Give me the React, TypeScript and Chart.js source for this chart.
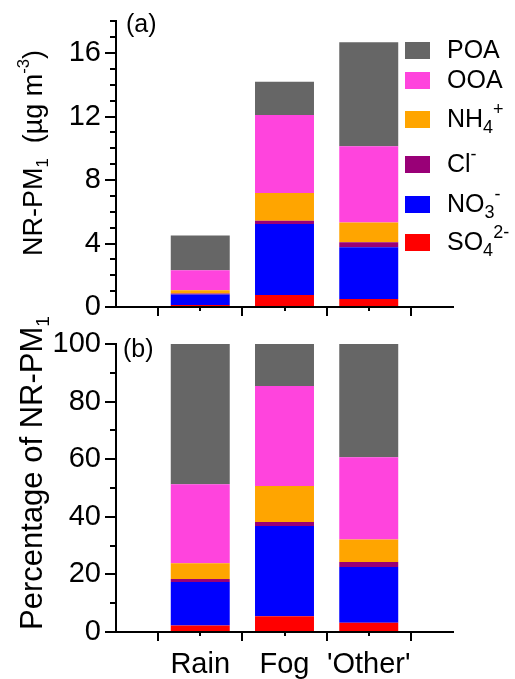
import React, { useEffect, useRef } from 'react';
import { Chart, registerables } from 'chart.js';

Chart.register(...registerables);
Chart.defaults.font.family = "'Liberation Sans', Arial, sans-serif";
Chart.defaults.color = '#000';

// ---------- data ----------
const categories = ['Rain', 'Fog', "'Other'"];
const speciesNames = ['SO4 2-', 'NO3 -', 'Cl -', 'NH4 +', 'OOA', 'POA'];
const speciesColors = ['#FF0000', '#0000FF', '#990077', '#FFA500', '#FF44DD', '#666666'];

// mass concentration (µg m-3), stacked from bottom
const so4Mass = [0.12, 0.75, 0.5];
const no3Mass = [0.67, 4.48, 3.27];
const clMass = [0.06, 0.21, 0.31];
const nh4Mass = [0.21, 1.75, 1.25];
const ooaMass = [1.25, 4.91, 4.8];
const poaMass = [2.19, 2.09, 6.56];

// percentage of NR-PM1
const so4Pct = [2.3, 5.5, 3.2];
const no3Pct = [15.1, 31.3, 19.4];
const clPct = [1.0, 1.4, 1.7];
const nh4Pct = [5.5, 12.5, 7.8];
const ooaPct = [27.4, 34.7, 28.6];
const poaPct = [48.7, 14.6, 39.3];

const massTicks = [0, 4, 8, 12, 16];
const massMinor = [1, 2, 3, 5, 6, 7, 9, 10, 11, 13, 14, 15, 17, 18];
const pctTicks = [0, 20, 40, 60, 80, 100];
const pctMinor = [10, 30, 50, 70, 90];
const catPositions = [1, 2, 3];
const catDividers = [0.5, 1.5, 2.5, 3.5];

// rich text: [text, kind] kind 0 normal, 1 subscript, 2 superscript
type Part = [string, number];
const legendParts: Part[][] = [
  [['POA', 0]],
  [['OOA', 0]],
  [['NH', 0], ['4', 1], ['+', 2]],
  [['Cl', 0], ['-', 2]],
  [['NO', 0], ['3', 1], ['-', 2]],
  [['SO', 0], ['4', 1], ['2-', 2]],
];
const legendColors = ['#666666', '#FF44DD', '#FFA500', '#990077', '#0000FF', '#FF0000'];
const titleTop: Part[] = [['NR-PM', 0], ['1', 1], ['  (\u00B5g m', 0], ['-3', 2], [')', 0]];
const titleBottom: Part[] = [['Percentage of NR-PM', 0], ['1', 1]];

// ---------- layout ----------
const W = 515;
const H = 679;
const FONT = "'Liberation Sans', Arial, sans-serif";
const legendRows = [58, 88, 127, 172, 212, 250]; // text baselines

function drawRich(ctx: CanvasRenderingContext2D, parts: Part[], x: number, y: number, size: number, align: string, subScale = 0.7) {
  const small = size * subScale;
  const widths = parts.map(([t, k]) => {
    ctx.font = `${k ? small : size}px ${FONT}`;
    return ctx.measureText(t).width;
  });
  const total = widths.reduce((a, b) => a + b, 0);
  let cx = align === 'center' ? x - total / 2 : x;
  ctx.textAlign = 'left';
  ctx.textBaseline = 'alphabetic';
  parts.forEach(([t, k], i) => {
    ctx.font = `${k ? small : size}px ${FONT}`;
    const dy = k === 1 ? size * 0.22 : k === 2 ? -size * 0.5 : 0;
    ctx.fillText(t, cx, y + dy);
    cx += widths[i];
  });
}

const overlayPlugin = {
  id: 'overlay',
  afterDraw(chart: any, _args: any, opts: any) {
    const ctx: CanvasRenderingContext2D = chart.ctx;
    const xs = chart.scales.x;
    const ys = chart.scales.y;
    const area = chart.chartArea;
    ctx.save();
    ctx.strokeStyle = '#000';
    ctx.fillStyle = '#000';
    ctx.lineWidth = 2;
    ctx.beginPath();
    for (const v of catDividers) {
      const px = Math.round(xs.getPixelForValue(v));
      ctx.moveTo(px, area.bottom);
      ctx.lineTo(px, area.bottom + 9);
    }
    for (const v of opts.yMinor) {
      const py = Math.round(ys.getPixelForValue(v));
      ctx.moveTo(area.left - 6, py);
      ctx.lineTo(area.left, py);
    }
    ctx.stroke();

    // panel label
    ctx.font = `25px ${FONT}`;
    ctx.textAlign = 'left';
    ctx.textBaseline = 'alphabetic';
    ctx.fillText(opts.panel, opts.panelX, opts.panelY);

    // axis title
    ctx.save();
    ctx.translate(opts.titleX, opts.titleY);
    ctx.rotate(-Math.PI / 2);
    drawRich(ctx, opts.title, 0, 0, opts.titleSize, 'center', 0.62);
    ctx.restore();

    if (opts.legend) {
      legendParts.forEach((parts, i) => {
        const base = legendRows[i];
        ctx.fillStyle = legendColors[i];
        ctx.fillRect(405, base - 16, 25, 17);
        ctx.fillStyle = '#000';
        drawRich(ctx, parts, 447, base, 25, 'left', 0.72);
      });
    }
    ctx.restore();
  },
};

function makeConfig(series: number[][], yMax: number, yTicks: number[], showX: boolean, pad: any, xHeight: number, overlay: any) {
  return {
    type: 'bar' as const,
    data: {
      datasets: series.map((vals, k) => ({
        label: speciesNames[k],
        data: vals.map((v, i) => ({ x: catPositions[i], y: v })),
        backgroundColor: speciesColors[k],
        borderWidth: 0,
        categoryPercentage: 1,
        barPercentage: 0.7,
      })),
    },
    options: {
      animation: false,
      responsive: false,
      maintainAspectRatio: false,
      events: [],
      layout: { padding: pad },
      plugins: {
        legend: { display: false },
        tooltip: { enabled: false },
        overlay,
      },
      scales: {
        x: {
          type: 'linear',
          min: 0,
          max: 4,
          stacked: true,
          offset: false,
          afterBuildTicks: (s: any) => {
            s.ticks = catPositions.map((v) => ({ value: v }));
          },
          afterFit: (s: any) => {
            s.height = xHeight;
          },
          grid: { drawOnChartArea: false, drawTicks: true, tickLength: 4, color: '#000', lineWidth: 2, offset: false },
          border: { color: '#000', width: 2 },
          ticks: {
            display: showX,
            autoSkip: false,
            maxRotation: 0,
            padding: 12,
            font: { size: 29 },
            color: '#000',
            callback: (v: number) => categories[catPositions.indexOf(v)] ?? '',
          },
        },
        y: {
          type: 'linear',
          min: 0,
          max: yMax,
          stacked: true,
          afterBuildTicks: (s: any) => {
            s.ticks = yTicks.map((v) => ({ value: v }));
          },
          afterFit: (s: any) => {
            s.width = 116;
          },
          grid: { drawOnChartArea: false, drawTicks: true, tickLength: 11, color: '#000', lineWidth: 2 },
          border: { color: '#000', width: 2 },
          ticks: { font: { size: 29 }, color: '#000', padding: 4 },
        },
      },
    },
  };
}

export default function App() {
  const topRef = useRef<HTMLCanvasElement>(null);
  const botRef = useRef<HTMLCanvasElement>(null);

  useEffect(() => {
    const massSeries = [so4Mass, no3Mass, clMass, nh4Mass, ooaMass, poaMass];
    const pctSeries = [so4Pct, no3Pct, clPct, nh4Pct, ooaPct, poaPct];
    const c1 = new Chart(topRef.current!, {
      ...(makeConfig(massSeries, 18, massTicks, false, { top: 19, left: 0, right: 62, bottom: H - 307 - 23 }, 23, {
        yMinor: massMinor,
        panel: '(a)',
        panelX: 126,
        panelY: 32,
        title: titleTop,
        titleX: 42,
        titleY: 153,
        titleSize: 27,
        legend: true,
      }) as any),
      plugins: [overlayPlugin],
    });
    const c2 = new Chart(botRef.current!, {
      ...(makeConfig(pctSeries, 100, pctTicks, true, { top: 344, left: 0, right: 62, bottom: 0 }, H - 632, {
        yMinor: pctMinor,
        panel: '(b)',
        panelX: 123,
        panelY: 357,
        title: titleBottom,
        titleX: 42,
        titleY: 473,
        titleSize: 31,
        legend: false,
      }) as any),
      plugins: [overlayPlugin],
    });
    return () => {
      c1.destroy();
      c2.destroy();
    };
  }, []);

  return (
    <div style={{ position: 'absolute', left: 0, top: 0, width: W, height: H, background: '#fff' }}>
      <canvas ref={topRef} width={W} height={H} style={{ position: 'absolute', left: 0, top: 0 }} />
      <canvas ref={botRef} width={W} height={H} style={{ position: 'absolute', left: 0, top: 0 }} />
    </div>
  );
}
